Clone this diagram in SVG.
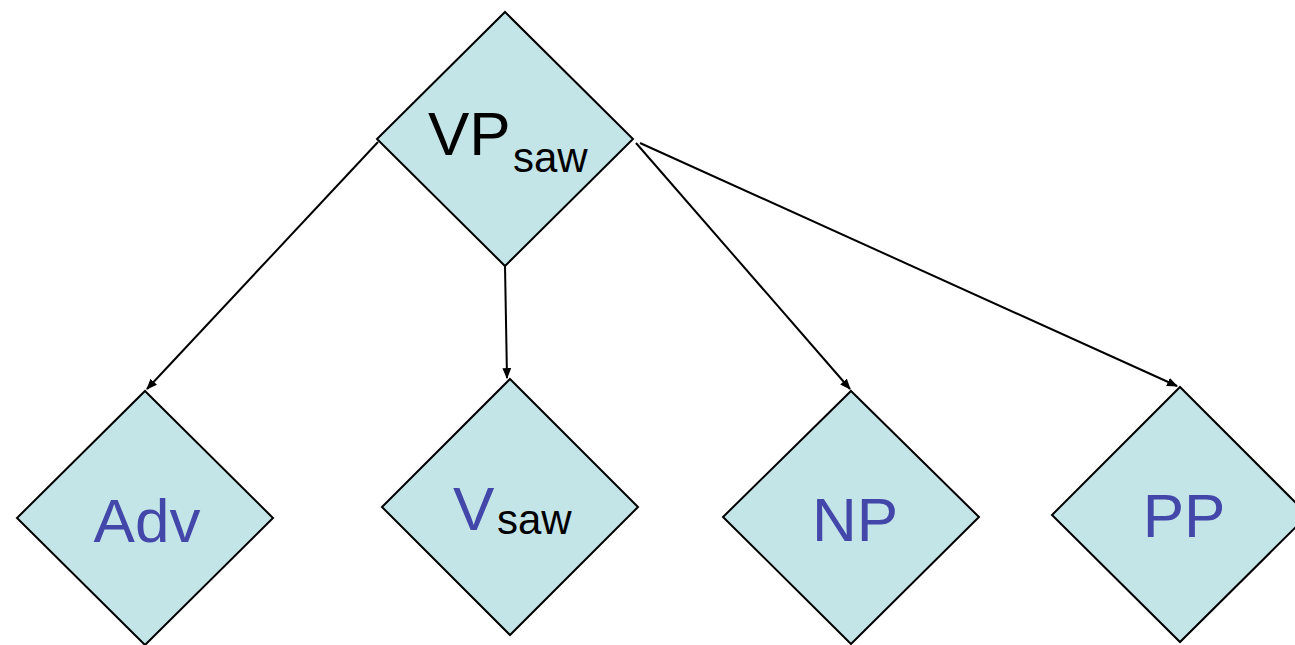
<svg xmlns="http://www.w3.org/2000/svg" width="1295" height="645" viewBox="0 0 1295 645">
  <style>
    .node { fill: #C4E5E8; stroke: #000; stroke-width: 2; stroke-linejoin: miter; }
    .edge { stroke: #000; stroke-width: 2; fill: none; marker-end: url(#arrow); }
    .lbl { font-family: "Liberation Sans", Arial, sans-serif; font-size: 62px; }
    .sub { font-family: "Liberation Sans", Arial, sans-serif; font-size: 42px; fill: #000; }
    .blue { fill: #4347A9; }
    .black { fill: #000; }
  </style>
  <defs>
    <marker id="arrow" viewBox="0 0 10 8" refX="9" refY="4" markerWidth="11" markerHeight="9" markerUnits="userSpaceOnUse" orient="auto">
      <path d="M0,0 L10,4 L0,8 z" fill="#000"/>
    </marker>
  </defs>

  <!-- connectors from VP to its children -->
  <g id="connectors">
    <line class="edge" x1="378" y1="142" x2="147" y2="389"/>
    <line class="edge" x1="505" y1="266" x2="507" y2="378"/>
    <line class="edge" x1="636" y1="143" x2="850" y2="389"/>
    <line class="edge" x1="640" y1="143" x2="1177" y2="386"/>
  </g>

  <g id="node-vp">
    <polygon class="node" points="505,12 633,139 505,266 377,139"/>
    <text class="lbl black" x="428" y="155">VP</text>
    <text class="sub" x="513" y="172">saw</text>
  </g>

  <g id="node-adv">
    <polygon class="node" points="145,391 273,518 145,645 17,518"/>
    <text class="lbl blue" x="147" y="542" text-anchor="middle">Adv</text>
  </g>

  <g id="node-v">
    <polygon class="node" points="510,379 638,507 510,635 382,507"/>
    <text class="lbl blue" x="453" y="530">V</text>
    <text class="sub" x="497" y="534">saw</text>
  </g>

  <g id="node-np">
    <polygon class="node" points="851,391 979,517 851,644 723,517"/>
    <text class="lbl blue" x="855" y="541" text-anchor="middle">NP</text>
  </g>

  <g id="node-pp">
    <polygon class="node" points="1180,387 1308,515 1180,642 1052,515"/>
    <text class="lbl blue" x="1184" y="537" text-anchor="middle">PP</text>
  </g>
</svg>
